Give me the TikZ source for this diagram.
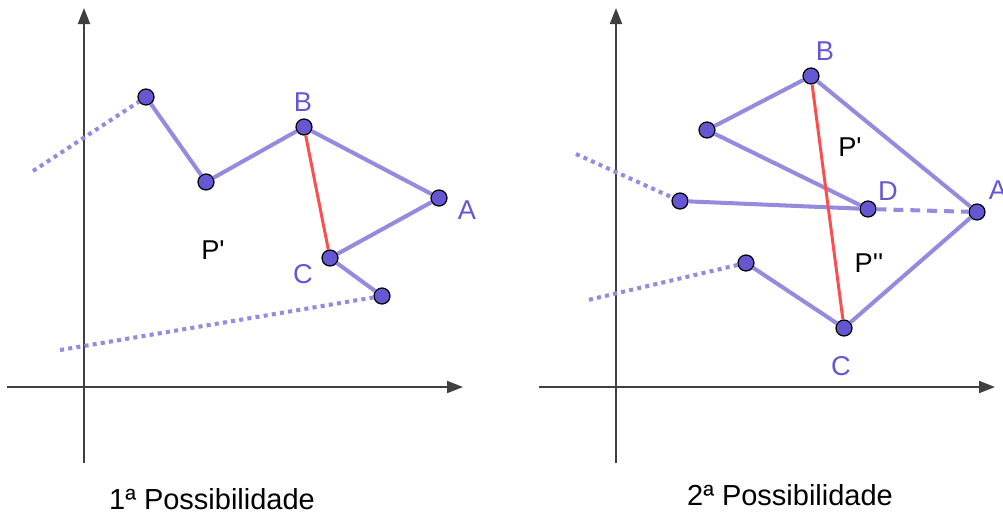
\documentclass[tikz,border=0pt]{standalone}
\usepackage{fontspec}
\setmainfont{Liberation Sans}
\usetikzlibrary{arrows.meta,positioning}
\definecolor{ptblue}{RGB}{101,87,210}
\definecolor{segblue}{RGB}{150,138,222}
\definecolor{cutred}{RGB}{255,77,77}
\definecolor{axisgray}{RGB}{64,64,64}

\begin{document}
\begin{tikzpicture}[x=0.02cm, y=-0.02cm,
    vertex/.style={circle, draw=black, line width=0.7pt, fill=ptblue, minimum size=0.32cm, inner sep=0pt},
    side/.style={draw=segblue, line width=2.3pt},
    open/.style={side, dash pattern=on 2.3pt off 2.4pt},
    hidden/.style={side, dash pattern=on 5.6pt off 4pt},
    cut/.style={draw=cutred, line width=1.7pt},
    axis/.style={draw=axisgray, line width=1.1pt, -{Triangle[length=3.2mm,width=2.4mm]}},
    lbl/.style={text=ptblue, font=\fontsize{15.5}{18}\selectfont},
    region/.style={font=\fontsize{15.5}{18}\selectfont},
    caption/.style={font=\fontsize{16.5}{19}\selectfont}
]
    \useasboundingbox (0,0) rectangle (1003,515);

    % 1a possibilidade: axes
    \coordinate (ly0) at (84,463);
    \coordinate (ly1) at (84,8);
    \coordinate (lx0) at (7,387);
    \coordinate (lx1) at (463,387);
    \draw[axis] (ly0) -- (ly1);
    \draw[axis] (lx0) -- (lx1);

    % 1a possibilidade: vertices
    \node[vertex] (L1) at (146,97) {};
    \node[vertex] (L2) at (206,182) {};
    \node[vertex] (B1) at (304,127) {};
    \node[vertex] (A1) at (439,198) {};
    \node[vertex] (C1) at (330,258) {};
    \node[vertex] (L3) at (382,296) {};
    \coordinate (e1) at (33,171);
    \coordinate (e2) at (60,350);

    \draw[open] (e1) -- (L1);
    \draw[side] (L1) -- (L2);
    \draw[side] (L2) -- (B1);
    \draw[side] (B1) -- (A1);
    \draw[side] (A1) -- (C1);
    \draw[side] (C1) -- (L3);
    \draw[open] (L3) -- (e2);
    \draw[cut] (B1) -- (C1);

    \node[lbl] (B1lbl) at (303,102) {B};
    \node[lbl] (A1lbl) at (467,210) {A};
    \node[lbl] (C1lbl) at (303,274) {C};
    \node[region] (P1) at (213,250) {P\textquotesingle};
    \node[caption] (cap1) at (212,499) {1ª Possibilidade};

    % 2a possibilidade: axes
    \coordinate (ry0) at (616,463);
    \coordinate (ry1) at (616,8);
    \coordinate (rx0) at (539,387);
    \coordinate (rx1) at (995,387);
    \draw[axis] (ry0) -- (ry1);
    \draw[axis] (rx0) -- (rx1);

    % 2a possibilidade: vertices
    \node[vertex] (R1) at (707,130) {};
    \node[vertex] (B2) at (811,76) {};
    \node[vertex] (D2) at (868,209) {};
    \node[vertex] (R2) at (680,201) {};
    \node[vertex] (A2) at (977,212) {};
    \node[vertex] (R3) at (746,263) {};
    \node[vertex] (C2) at (844,328) {};
    \coordinate (f1) at (576,154);
    \coordinate (f2) at (588,300);

    \draw[open] (f1) -- (R2);
    \draw[side] (R2) -- (D2);
    \draw[side] (D2) -- (R1);
    \draw[side] (R1) -- (B2);
    \draw[side] (B2) -- (A2);
    \draw[hidden] (D2) -- (A2);
    \draw[side] (A2) -- (C2);
    \draw[side] (C2) -- (R3);
    \draw[open] (R3) -- (f2);
    \draw[cut] (B2) -- (C2);

    \node[lbl] (B2lbl) at (825,51) {B};
    \node[lbl] (D2lbl) at (888,191) {D};
    \node[lbl] (A2lbl) at (998,190) {A};
    \node[lbl] (C2lbl) at (841,366) {C};
    \node[region] (P2) at (850,147) {P\textquotesingle};
    \node[region] (P3) at (869,263) {P\textquotesingle\textquotesingle};
    \node[caption] (cap2) at (790,495) {2ª Possibilidade};
\end{tikzpicture}
\end{document}
